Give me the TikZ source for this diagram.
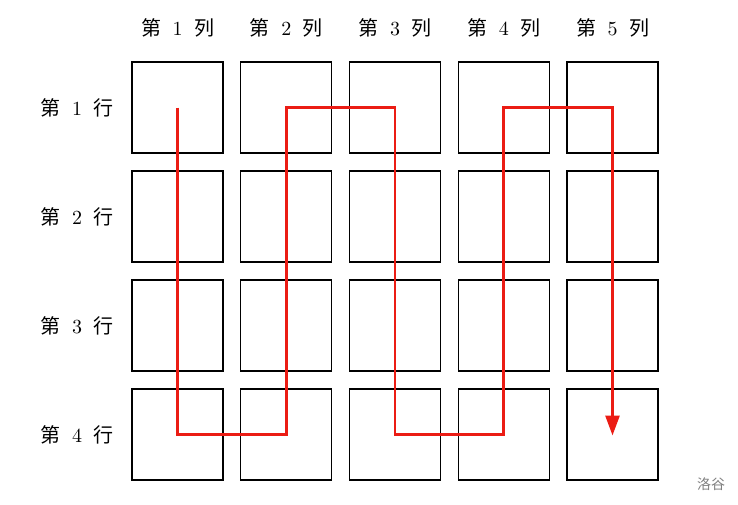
\documentclass[tikz,border=0pt]{standalone}
\usepackage{fontspec}
\usepackage{graphicx}
\newfontfamily\cjk{Noto Sans CJK SC}
\usetikzlibrary{arrows.meta}
\definecolor{pathred}{RGB}{235,28,20}
\newcommand{\lbl}[2]{\scalebox{2}{\fontsize{10}{11}\selectfont{\cjk 第}\hspace{5.75pt}#1\hspace{5.75pt}{\cjk #2}}}
\begin{document}
\begin{tikzpicture}[x=1pt,y=-1pt,
  cell/.style={draw=black,line width=1.4pt,minimum size=91pt,inner sep=0pt,outer sep=0pt},
  lab/.style={inner sep=0pt},
  route/.style={draw=pathred,line width=2.8pt,line join=miter,-{Triangle[length=20pt,width=14pt]}}]
\useasboundingbox (0,0) rectangle (738,504);
\foreach \i in {1,...,4}{
  \foreach \j in {1,...,5}{
    \node[cell] (c\i\j) at ({177.5+108.75*(\j-1)},{107.5+109*(\i-1)}) {};
  }
  \node[lab] (r\i) at (77,{107.5+109*(\i-1)}) {\lbl{\i}{行}};
}
\foreach \j in {1,...,5}{
  \node[lab] (k\j) at ({177.5+108.75*(\j-1)},28) {\lbl{\j}{列}};
}
\draw[route] (c11.center) -- (c41.center) -- (c42.center) -- (c12.center) -- (c13.center)
  -- (c43.center) -- (c44.center) -- (c14.center) -- (c15.center) -- ([yshift=-1pt]c45.center);
\node[font=\cjk\fontsize{14}{15}\selectfont,text=gray,inner sep=0pt] (wm) at (711,484) {洛谷};
\end{tikzpicture}
\end{document}
